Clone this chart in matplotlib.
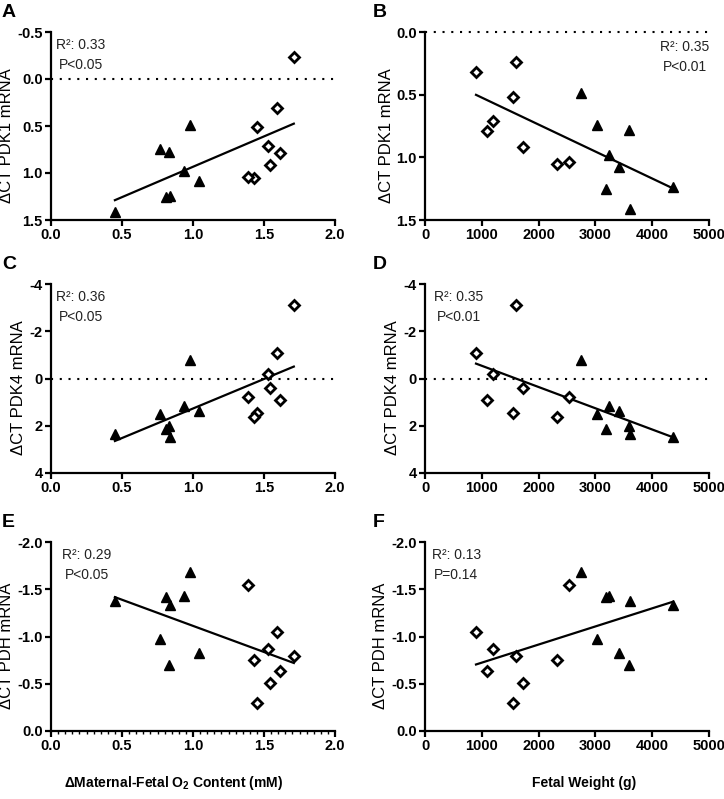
import numpy as np
import matplotlib
matplotlib.use('Agg')
from matplotlib import pyplot as plt
from matplotlib.ticker import MultipleLocator

plt.rcParams['font.family'] = ['Liberation Sans', 'DejaVu Sans']
plt.rcParams['mathtext.fontset'] = 'custom'
plt.rcParams['mathtext.rm'] = 'Liberation Sans'

# animals: diamonds (open) and triangles (filled), same order in every panel
o2_diamond = [1.59, 1.61, 1.53, 1.45, 1.71, 1.54, 1.43, 1.39]
o2_triangle = [0.98, 0.77, 0.81, 0.94, 1.04, 0.83, 0.45, 0.84]
fw_diamond = [898, 1086, 1197, 1555, 1597, 1731, 2318, 2529]
fw_triangle = [2752, 3028, 3181, 3245, 3415, 3597, 3603, 4366]

pdk1_diamond_a = [0.31, 0.79, 0.71, 0.51, -0.23, 0.91, 1.05, 1.04]
pdk1_diamond = [0.32, 0.79, 0.71, 0.52, 0.24, 0.92, 1.05, 1.04]
pdk1_triangle = [0.49, 0.74, 1.25, 0.98, 1.08, 0.78, 1.41, 1.24]

pdk4_diamond = [-1.09, 0.93, -0.18, 1.47, -3.11, 0.40, 1.63, 0.79]
pdk4_triangle = [-0.77, 1.49, 2.12, 1.16, 1.37, 1.99, 2.36, 2.49]

pdh_diamond = [-1.05, -0.64, -0.87, -0.30, -0.79, -0.51, -0.75, -1.54]
pdh_triangle = [-1.68, -0.97, -1.42, -1.43, -0.83, -0.70, -1.38, -1.33]

stats = ['R²: 0.33\nP<0.05', 'R²: 0.35\nP<0.01', 'R²: 0.36\nP<0.05',
         'R²: 0.35\nP<0.01', 'R²: 0.29\nP<0.05', 'R²: 0.13\nP=0.14']
letters = ['A', 'B', 'C', 'D', 'E', 'F']
ylabels = ['ΔCT PDK1 mRNA', 'ΔCT PDK4 mRNA', 'ΔCT PDH mRNA']

W, H = 724, 799
fig = plt.figure(figsize=(W / 100, H / 100), dpi=100)


def make_axes(left, top, right, bottom):
    return fig.add_axes([left / W, 1 - bottom / H, (right - left) / W, (bottom - top) / H])


rows = [(32, 220), (284, 473), (542, 731)]
cols = [(51, 335), (425, 709)]

panels = [
    (o2_diamond, pdk1_diamond_a, o2_triangle, pdk1_triangle, (1.5, -0.5), 0.5, True),
    (fw_diamond, pdk1_diamond, fw_triangle, pdk1_triangle, (1.5, 0.0), 0.5, True),
    (o2_diamond, pdk4_diamond, o2_triangle, pdk4_triangle, (4, -4), 2, True),
    (fw_diamond, pdk4_diamond, fw_triangle, pdk4_triangle, (4, -4), 2, True),
    (o2_diamond, pdh_diamond, o2_triangle, pdh_triangle, (0.0, -2.0), 0.5, False),
    (fw_diamond, pdh_diamond, fw_triangle, pdh_triangle, (0.0, -2.0), 0.5, False),
]
# where the R2 / P text block sits (axes coords, centre of block, top)
stat_pos = [(0.105, 0.97), (0.915, 0.96), (0.105, 0.97),
            (0.12, 0.97), (0.125, 0.97), (0.11, 0.97)]
# y label anchor (axes coords)
ylabel_x = [-0.13, -0.108, -0.088, -0.088, -0.13, -0.13]

for i, (xd, yd, xt, yt, ylim, ystep, zero_line) in enumerate(panels):
    r, c = i // 2, i % 2
    ax = make_axes(cols[c][0], rows[r][0], cols[c][1], rows[r][1])
    if c == 0:
        ax.set_xlim(0, 2.0)
        ax.xaxis.set_major_locator(MultipleLocator(0.5))
        ax.xaxis.set_major_formatter(lambda v, p: f'{v:.1f}')
        if r == 2:
            ax.xaxis.set_minor_locator(MultipleLocator(0.05))
    else:
        ax.set_xlim(0, 5000)
        ax.xaxis.set_major_locator(MultipleLocator(1000))
    ax.set_ylim(*ylim)
    ax.yaxis.set_major_locator(MultipleLocator(ystep))
    if ystep < 1:
        ax.yaxis.set_major_formatter(lambda v, p: f'{v:.1f}')
    else:
        ax.yaxis.set_major_formatter(lambda v, p: f'{v:.0f}')

    if zero_line:
        ax.axhline(0, color='black', lw=1.5, linestyle=(0, (1, 3.2)), zorder=1, clip_on=False)

    x_all = np.array(xd + xt, dtype=float)
    y_all = np.array(yd + yt, dtype=float)
    k, b = np.polyfit(x_all, y_all, 1)
    xs = np.array([x_all.min(), x_all.max()])
    ax.plot(xs, k * xs + b, color='black', lw=1.6, zorder=2)

    ax.plot(xt, yt, linestyle='none', marker='^', ms=7, color='black', zorder=3, clip_on=False)
    ax.plot(xd, yd, linestyle='none', marker='D', ms=4.6, mfc='white', mec='black',
            mew=2.0, zorder=4, clip_on=False)

    for s in ['top', 'right']:
        ax.spines[s].set_visible(False)
    for s in ['left', 'bottom']:
        ax.spines[s].set_linewidth(1.6)
    ax.tick_params(width=1.6, length=4, labelsize=10.5, pad=2)
    ax.tick_params(which='minor', width=1.0, length=2)
    for lab in ax.get_xticklabels() + ax.get_yticklabels():
        lab.set_fontweight('bold')

    ax.set_ylabel(ylabels[r], fontsize=12)
    ax.yaxis.set_label_coords(ylabel_x[i], 0.45)

    sx, sy = stat_pos[i]
    ax.text(sx, sy, stats[i], transform=ax.transAxes, ha='center', va='top',
            fontsize=10, color='#222222', multialignment='center', linespacing=1.6)

    lx = 2 if c == 0 else 373
    fig.text(lx / W, 1 - (rows[r][0] - 28) / H, letters[i], fontsize=14, fontweight='bold',
             ha='left', va='top')

fig.text(174 / W, 1 - 783 / H, 'ΔMaternal-Fetal O$_\\mathregular{2}$ Content (mM)',
         fontsize=10, fontweight='bold', ha='center', va='center')
fig.text(584 / W, 1 - 783 / H, 'Fetal Weight (g)', fontsize=10, fontweight='bold',
         ha='center', va='center')

fig.savefig('out.png', dpi=100)
